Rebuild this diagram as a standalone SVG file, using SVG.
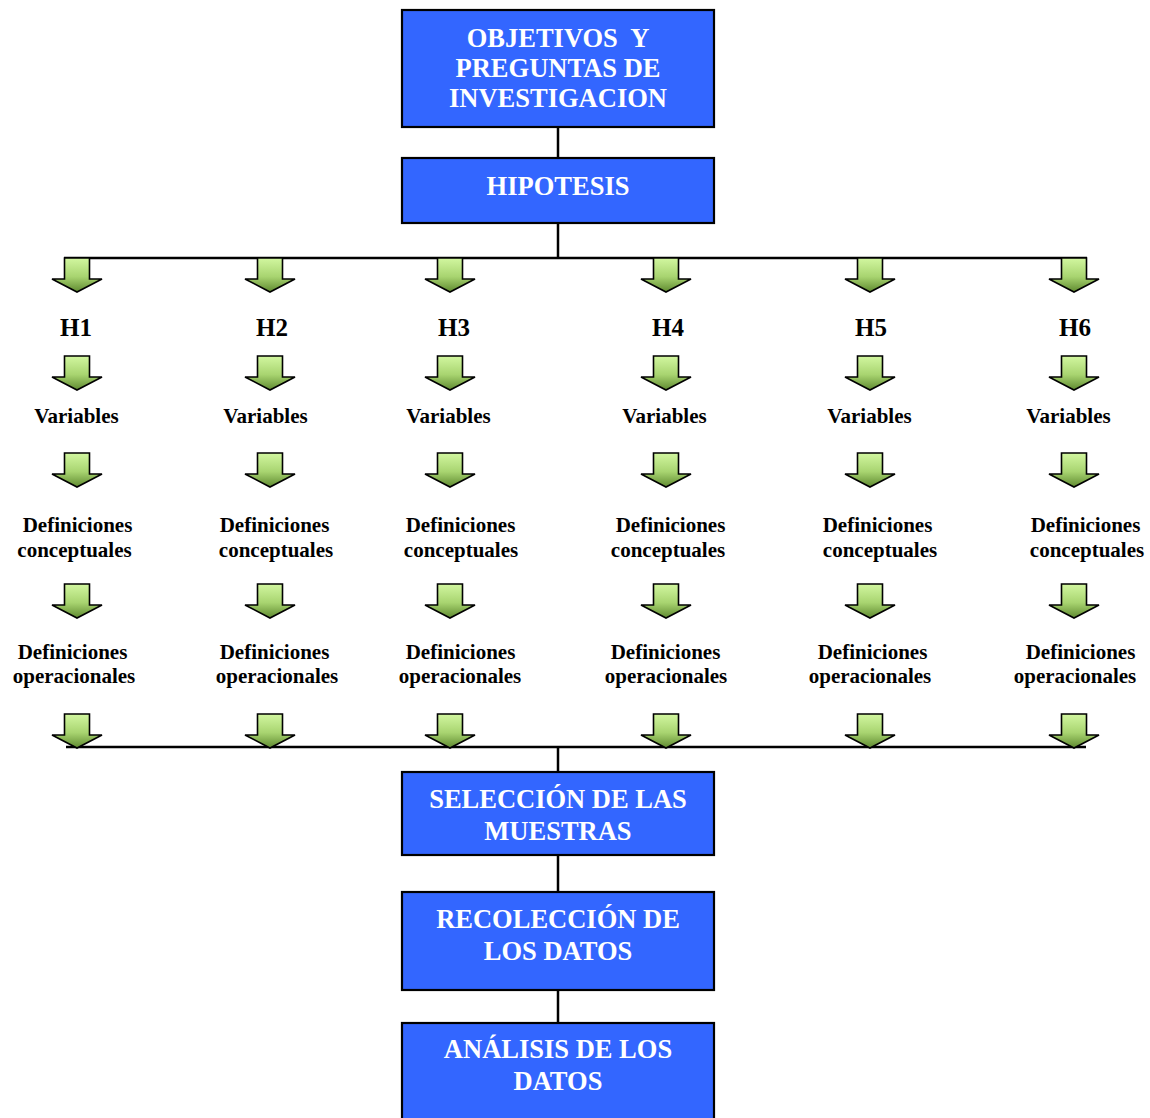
<svg xmlns="http://www.w3.org/2000/svg" width="1150" height="1118" viewBox="0 0 1150 1118">
<style>
.box{fill:#3366ff;stroke:#000;stroke-width:2.2}
.bt{font-family:"Liberation Serif","Times New Roman",serif;font-weight:bold;font-size:26.5px;fill:#fff;text-anchor:middle}
.lbl{font-family:"Liberation Serif","Times New Roman",serif;font-weight:bold;font-size:21px;fill:#000;text-anchor:middle}
.h{font-family:"Liberation Serif","Times New Roman",serif;font-weight:bold;font-size:25px;fill:#000;text-anchor:middle}
.ln{stroke:#000;stroke-width:2.5;fill:none}
.arr{fill:url(#g);stroke:#000;stroke-width:1.6;stroke-linejoin:miter}
</style>
<defs>
<linearGradient id="g" x1="0" y1="0" x2="0" y2="1">
<stop offset="0" stop-color="#d2f7a0"/>
<stop offset="0.55" stop-color="#a8d470"/>
<stop offset="1" stop-color="#5f8a30"/>
</linearGradient>
<path id="a" d="M-12.5,0 H12.5 V21 H25 L0,34 L-25,21 H-12.5 Z"/>
</defs>
<g id="connectors">
<line class="ln" x1="558" y1="127" x2="558" y2="158"/>
<line class="ln" x1="558" y1="223" x2="558" y2="258"/>
<line class="ln" x1="64" y1="258" x2="1087" y2="258"/>
<line class="ln" x1="66" y1="747" x2="1086" y2="747"/>
<line class="ln" x1="558" y1="747" x2="558" y2="772"/>
<line class="ln" x1="558" y1="855" x2="558" y2="892"/>
<line class="ln" x1="558" y1="990" x2="558" y2="1023"/>
</g>
<g id="arrows">
<use href="#a" class="arr" x="77" y="258"/><use href="#a" class="arr" x="270" y="258"/><use href="#a" class="arr" x="450" y="258"/><use href="#a" class="arr" x="666" y="258"/><use href="#a" class="arr" x="870" y="258"/><use href="#a" class="arr" x="1074" y="258"/>
<use href="#a" class="arr" x="77" y="356"/><use href="#a" class="arr" x="270" y="356"/><use href="#a" class="arr" x="450" y="356"/><use href="#a" class="arr" x="666" y="356"/><use href="#a" class="arr" x="870" y="356"/><use href="#a" class="arr" x="1074" y="356"/>
<use href="#a" class="arr" x="77" y="453"/><use href="#a" class="arr" x="270" y="453"/><use href="#a" class="arr" x="450" y="453"/><use href="#a" class="arr" x="666" y="453"/><use href="#a" class="arr" x="870" y="453"/><use href="#a" class="arr" x="1074" y="453"/>
<use href="#a" class="arr" x="77" y="584"/><use href="#a" class="arr" x="270" y="584"/><use href="#a" class="arr" x="450" y="584"/><use href="#a" class="arr" x="666" y="584"/><use href="#a" class="arr" x="870" y="584"/><use href="#a" class="arr" x="1074" y="584"/>
<use href="#a" class="arr" x="77" y="714"/><use href="#a" class="arr" x="270" y="714"/><use href="#a" class="arr" x="450" y="714"/><use href="#a" class="arr" x="666" y="714"/><use href="#a" class="arr" x="870" y="714"/><use href="#a" class="arr" x="1074" y="714"/>
</g>
<g id="objetivos">
<rect class="box" x="402" y="10" width="312" height="117"/>
<text class="bt" x="558" y="46.5" xml:space="preserve">OBJETIVOS  Y</text>
<text class="bt" x="558" y="76.5">PREGUNTAS DE</text>
<text class="bt" x="558" y="107">INVESTIGACION</text>
</g>
<g id="hipotesis">
<rect class="box" x="402" y="158" width="312" height="65"/>
<text class="bt" x="558" y="195">HIPOTESIS</text>
</g>
<g id="h-labels">
<text class="h" x="76" y="336">H1</text>
<text class="h" x="272" y="336">H2</text>
<text class="h" x="454" y="336">H3</text>
<text class="h" x="668" y="336">H4</text>
<text class="h" x="871" y="336">H5</text>
<text class="h" x="1075" y="336">H6</text>
</g>
<g id="variables">
<text class="lbl" x="76.5" y="423">Variables</text>
<text class="lbl" x="265.5" y="423">Variables</text>
<text class="lbl" x="448.5" y="423">Variables</text>
<text class="lbl" x="664.5" y="423">Variables</text>
<text class="lbl" x="869.5" y="423">Variables</text>
<text class="lbl" x="1068.5" y="423">Variables</text>
</g>
<g id="def-conceptuales">
<text class="lbl" x="77.5" y="532">Definiciones</text><text class="lbl" x="74.5" y="557">conceptuales</text>
<text class="lbl" x="274.5" y="532">Definiciones</text><text class="lbl" x="276" y="557">conceptuales</text>
<text class="lbl" x="460.5" y="532">Definiciones</text><text class="lbl" x="461" y="557">conceptuales</text>
<text class="lbl" x="670.5" y="532">Definiciones</text><text class="lbl" x="668" y="557">conceptuales</text>
<text class="lbl" x="877.5" y="532">Definiciones</text><text class="lbl" x="880" y="557">conceptuales</text>
<text class="lbl" x="1085.5" y="532">Definiciones</text><text class="lbl" x="1087" y="557">conceptuales</text>
</g>
<g id="def-operacionales">
<text class="lbl" x="72.5" y="659">Definiciones</text><text class="lbl" x="74" y="683">operacionales</text>
<text class="lbl" x="274.5" y="659">Definiciones</text><text class="lbl" x="277" y="683">operacionales</text>
<text class="lbl" x="460.5" y="659">Definiciones</text><text class="lbl" x="460" y="683">operacionales</text>
<text class="lbl" x="665.5" y="659">Definiciones</text><text class="lbl" x="666" y="683">operacionales</text>
<text class="lbl" x="872.5" y="659">Definiciones</text><text class="lbl" x="870" y="683">operacionales</text>
<text class="lbl" x="1080.5" y="659">Definiciones</text><text class="lbl" x="1075" y="683">operacionales</text>
</g>
<g id="seleccion">
<rect class="box" x="402" y="772" width="312" height="83"/>
<text class="bt" x="558" y="808">SELECCIÓN DE LAS</text>
<text class="bt" x="558" y="840">MUESTRAS</text>
</g>
<g id="recoleccion">
<rect class="box" x="402" y="892" width="312" height="98"/>
<text class="bt" x="558" y="928">RECOLECCIÓN DE</text>
<text class="bt" x="558" y="960">LOS DATOS</text>
</g>
<g id="analisis">
<rect class="box" x="402" y="1023" width="312" height="110"/>
<text class="bt" x="558" y="1058">ANÁLISIS DE LOS</text>
<text class="bt" x="558" y="1090">DATOS</text>
</g>
</svg>
